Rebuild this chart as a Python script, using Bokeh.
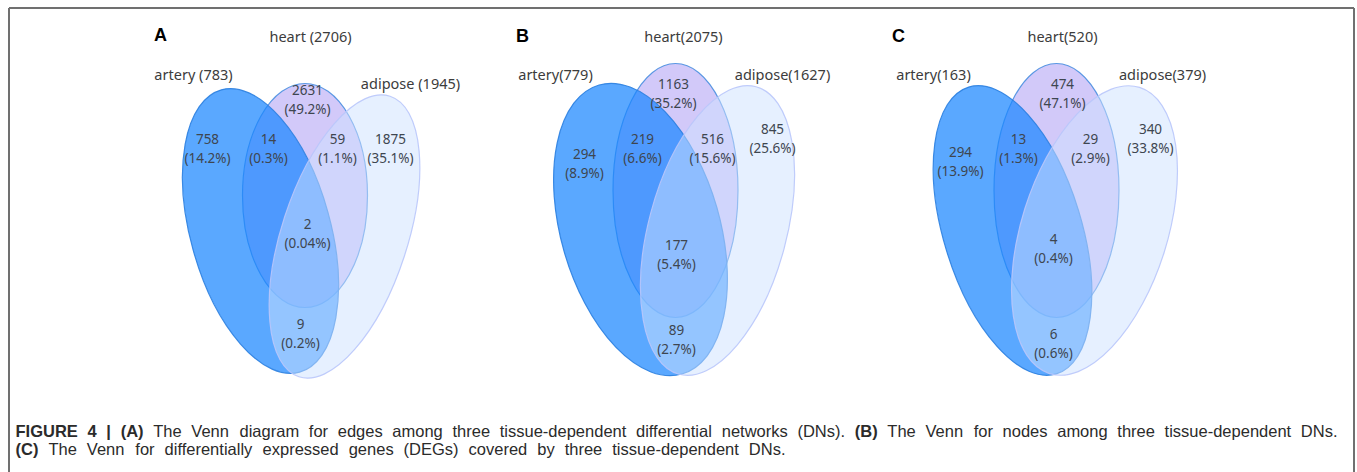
from bokeh.plotting import figure
from bokeh.models import Range1d
from bokeh.core.properties import value
from bokeh.embed import file_html
from bokeh.resources import INLINE
import math

# ---------------- data ----------------
panel_letters = ["A", "B", "C"]
set_names = ["artery", "heart", "adipose"]
A_totals = [783, 2706, 1945]
B_totals = [779, 2075, 1627]
C_totals = [163, 520, 379]
# region order: artery only, heart only, adipose only, artery&heart, heart&adipose, artery&adipose, all three
A_counts = [758, 2631, 1875, 14, 59, 9, 2]
A_pct = ["14.2%", "49.2%", "35.1%", "0.3%", "1.1%", "0.2%", "0.04%"]
B_counts = [294, 1163, 845, 219, 516, 89, 177]
B_pct = ["8.9%", "35.2%", "25.6%", "6.6%", "15.6%", "2.7%", "5.4%"]
C_counts = [294, 474, 340, 13, 29, 6, 4]
C_pct = ["13.9%", "47.1%", "33.8%", "1.3%", "2.9%", "0.6%", "0.4%"]

caption_1 = [("FIGURE 4 | (A)", True),
             ("The Venn diagram for edges among three tissue-dependent differential networks (DNs).", False),
             ("(B)", True), ("The Venn for nodes among three tissue-dependent DNs.", False)]
caption_2 = [("(C)", True),
             ("The Venn for differentially expressed genes (DEGs) covered by three tissue-dependent DNs.", False)]

# ---------------- layout (page pixel coordinates) ----------------
W, H = 1357, 472
def X(px):
    return px
def Y(py):
    return H - py

# ellipses: (cx, cy, width, height, tilt deg)
ell = {
    "A": [(260, 230.5, 140, 293, 15.5), (304.5, 195, 125, 224, 0), (344, 236, 126, 295, -18)],
    "B": [(640, 229, 159, 301, 16), (675, 190, 125, 254, 0), (717, 230, 138, 298, -15)],
    "C": [(1012, 230, 138, 300, 17), (1056, 190, 125, 254, 0), (1094, 230, 146, 300, -17.5)],
}
fills = ["#1a86ff", "#d2c9f9", "#cde1ff"]
fill_alpha = [0.72, 1.0, 0.5]
lines = ["#2b7fe0", "#4a8fe0", "#b9c6fb"]
draw_order = [1, 0, 2]

region_pos = {
    "A": [(207, 147.5), (307, 99), (390, 147.5), (268, 147.5), (337, 147.5), (300, 332.5), (307, 233)],
    "B": [(584, 163), (673, 92.5), (772, 137.5), (642, 147.5), (712, 147.5), (676, 339), (676, 254)],
    "C": [(960, 161), (1062, 92.5), (1150, 137.5), (1018, 147.5), (1090, 147.5), (1053, 342.5), (1053, 247.5)],
}
set_label_pos = {
    "A": [(193, 73), (310, 35), (410, 82)],
    "B": [(555, 73), (683, 35), (782, 73)],
    "C": [(933, 73), (1062, 35), (1162, 73)],
}
letter_pos = {"A": (160, 34), "B": (522, 35), "C": (898, 35)}

p = figure(width=W, height=H, output_backend="svg", toolbar_location=None,
           x_range=Range1d(0, W), y_range=Range1d(0, H), min_border=0)
p.axis.visible = False
p.grid.visible = False
p.outline_line_color = None
p.background_fill_color = "white"

# frame box
p.line([X(8.5), X(8.5)], [Y(7.5), 0], line_color="#707070", line_width=2)
p.line([X(8.5), X(1353.5)], [Y(7.5), Y(7.5)], line_color="#707070", line_width=2)
p.line([X(1353.5), X(1353.5)], [Y(7.5), 0], line_color="#707070", line_width=2)

lab_font = value("Noto Sans")
counts = {"A": A_counts, "B": B_counts, "C": C_counts}
pcts = {"A": A_pct, "B": B_pct, "C": C_pct}
totals = {"A": A_totals, "B": B_totals, "C": C_totals}

for pl in panel_letters:
    for i in draw_order:
        cx, cy, w, h, ang = ell[pl][i]
        p.ellipse(x=X(cx), y=Y(cy), width=w, height=h, angle=math.radians(ang),
                  fill_color=fills[i], fill_alpha=fill_alpha[i],
                  line_color=lines[i], line_width=1.2, line_alpha=0.9)
    xs, ys, txt = [], [], []
    for (px, py), c, pc in zip(region_pos[pl], counts[pl], pcts[pl]):
        xs += [X(px), X(px)]
        ys += [Y(py - 9.5), Y(py + 9.5)]
        txt += [str(c), "(" + pc + ")"]
    p.text(x=xs, y=ys, text=txt, text_font=lab_font, text_font_size="13.5px",
           text_color="#3e4650", text_align="center", text_baseline="middle")
    sep = " " if pl == "A" else ""
    xs, ys, txt = [], [], []
    for (px, py), nm, t in zip(set_label_pos[pl], set_names, totals[pl]):
        xs.append(X(px)); ys.append(Y(py)); txt.append(f"{nm}{sep}({t})")
    p.text(x=xs, y=ys, text=txt, text_font=lab_font, text_font_size="14.5px",
           text_color="#3c3c3c", text_align="center", text_baseline="middle")
    lx, ly = letter_pos[pl]
    p.text(x=[X(lx)], y=[Y(ly)], text=[pl], text_font=value("Liberation Sans"),
           text_font_style="bold", text_font_size="18px", text_color="black",
           text_align="center", text_baseline="middle")

# ---------------- caption: justified word placement ----------------
REG = {' ': 278, '(': 333, ')': 333, '.': 278, ',': 278, '-': 333, '|': 260,
       'A': 667, 'B': 667, 'C': 722, 'D': 722, 'E': 667, 'F': 611, 'G': 778, 'I': 278, 'N': 722,
       'R': 722, 'S': 667, 'T': 611, 'U': 722, 'V': 667,
       'a': 556, 'b': 556, 'c': 500, 'd': 556, 'e': 556, 'f': 278, 'g': 556, 'h': 556, 'i': 222,
       'j': 222, 'k': 500, 'l': 222, 'm': 833, 'n': 556, 'o': 556, 'p': 556, 'q': 556, 'r': 333,
       's': 500, 't': 278, 'u': 556, 'v': 500, 'w': 722, 'x': 500, 'y': 500, 'z': 500, '4': 556}
BOLD = {' ': 278, '(': 333, ')': 333, '|': 280, 'A': 722, 'B': 722, 'C': 722, 'E': 667,
        'F': 611, 'G': 778, 'I': 278, 'R': 722, 'U': 722, '4': 556}
FS = 16.5

def words_of(segs):
    out = []
    for s, b in segs:
        for w in s.split(" "):
            out.append((w, b))
    return out

def width(w, b):
    tab = BOLD if b else REG
    return sum(tab.get(ch, 556) for ch in w) * FS / 1000.0

def justify(words, start, stop):
    ws = [width(w, b) for w, b in words]
    gap = (stop - start - sum(ws)) / (len(words) - 1)
    xs, cur = [], start
    for wd in ws:
        xs.append(cur)
        cur += wd + gap
    return xs

w1 = words_of(caption_1)
w2 = words_of(caption_2)
x1 = justify(w1, 15.0, 1337.0)
x2 = justify(w2, 15.0, 785.0)
cap_font = value("Liberation Sans")
for words, xs, py in ((w1, x1, 430), (w2, x2, 448)):
    for bold in (True, False):
        sel = [(xx, w) for (w, b), xx in zip(words, xs) if b == bold]
        p.text(x=[X(s[0]) for s in sel], y=[Y(py)] * len(sel), text=[s[1] for s in sel],
               text_font=cap_font, text_font_size=f"{FS}px",
               text_font_style="bold" if bold else "normal", text_color="#2b2b2b",
               text_align="left", text_baseline="middle")

open("out.html", "w").write(file_html(p, INLINE))
